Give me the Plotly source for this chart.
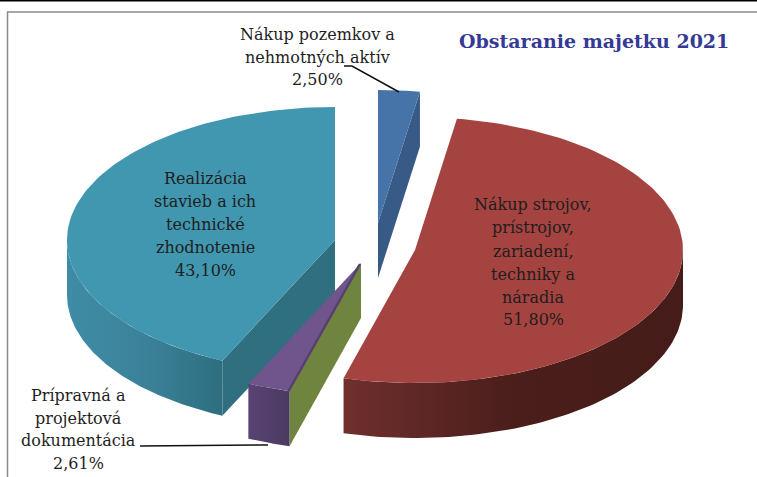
import numpy as np
import plotly.graph_objects as go

# --- data ---
categories = ["Nákup pozemkov a nehmotných aktív", "Nákup strojov, prístrojov, zariadení, techniky a náradia",
              "Prípravná a projektová dokumentácia", "Realizácia stavieb a ich technické zhodnotenie"]
values = [2.50, 51.80, 2.61, 43.10]
value_labels = ["2,50%", "51,80%", "2,61%", "43,10%"]
title_text = "Obstaranie majetku 2021"

# --- pie projection and style ---
RX, RY, DEPTH = 268, 133, 55
centers = [(378, 223), (415, 250), (361, 263), (335, 240)]   # exploded apex of each slice
top_colors = ["#4674A8", "#A54340", "#70548C", "#4197AF"]
side_grad = [None, ["#6F2F2D", "#4A1E1B", "#451C19"], ["#5A4375", "#4A3A60"], ["#3F8CA6", "#3B8299", "#2E6E80"]]
cut_colors = ["#375A86", None, "#6F843F", "#2F6F80"]

edges = np.cumsum([0] + values) / sum(values) * 2 * np.pi
W, H = 757, 477


def proj(c, t, dz=0):
    return c[0] + RX * np.sin(t), c[1] - RY * np.cos(t) + dz


def grad(cols):
    n = len(cols) - 1
    return dict(type="horizontal", colorscale=[[i / n, col] for i, col in enumerate(cols)])


def poly(x, y, color=None, gradient=None):
    kw = dict(fillgradient=gradient) if gradient else dict(fillcolor=color)
    return go.Scatter(x=list(x) + [x[0]], y=list(y) + [y[0]], mode="lines", fill="toself",
                      line=dict(width=0), hoverinfo="skip", showlegend=False, **kw)


def cut_face(i, e):
    c = centers[i]
    ox, oy = proj(c, e)
    return poly([c[0], ox, ox, c[0]], [c[1], oy, oy + DEPTH, c[1] + DEPTH], color=cut_colors[i])


def wall(i):
    c, a, b = centers[i], edges[i], edges[i + 1]
    lo, hi = max(a, np.pi / 2), min(b, 3 * np.pi / 2)
    t = np.linspace(lo, hi, 80)
    x1, y1 = proj(c, t)
    x2, y2 = proj(c, t[::-1], DEPTH)
    return poly(np.r_[x1, x2], np.r_[y1, y2], gradient=grad(side_grad[i]))


def top(i):
    c = centers[i]
    x, y = proj(c, np.linspace(edges[i], edges[i + 1], 120))
    return poly(np.r_[c[0], x], np.r_[c[1], y], color=top_colors[i])


fig = go.Figure()
# painter's order: teal, blue, purple/green, red
fig.add_traces([cut_face(3, edges[3]), wall(3), top(3)])
fig.add_traces([cut_face(0, edges[1]), top(0)])
fig.add_traces([cut_face(2, edges[2]), wall(2), top(2)])
fig.add_traces([wall(1), top(1)])

# purple wedge: thin darker bevel along its right edge
c = centers[2]
ox, oy = proj(c, edges[2])
fig.add_trace(go.Scatter(x=[c[0] - 1, ox - 1], y=[c[1] + 1, oy], mode="lines",
                         line=dict(color="#57406F", width=2.5), hoverinfo="skip", showlegend=False))

# leader lines
fig.add_trace(go.Scatter(x=[344, 352, 399], y=[66, 66, 92], mode="lines",
                         line=dict(color="#111111", width=1.5), hoverinfo="skip", showlegend=False))
fig.add_trace(go.Scatter(x=[140, 268], y=[446, 445], mode="lines",
                         line=dict(color="#111111", width=1.5), hoverinfo="skip", showlegend=False))

label_lines = [
    (317, [34, 57, 79], ["Nákup pozemkov a", "nehmotných aktív", value_labels[0]]),
    (533, [204, 227, 251, 274, 297, 319], ["Nákup strojov,", "prístrojov,", "zariadení,", "techniky a", "náradia", value_labels[1]]),
    (78, [395, 418, 440, 463], ["Prípravná a", "projektová", "dokumentácia", value_labels[2]]),
    (205, [178, 201, 224, 247, 270], ["Realizácia", "stavieb a ich", "technické", "zhodnotenie", value_labels[3]]),
]
FONT = "DejaVu Serif"
for x, ys, lines in label_lines:
    for y, s in zip(ys, lines):
        fig.add_annotation(x=x, y=y, text=s, showarrow=False, xanchor="center", yanchor="middle",
                           font=dict(family=FONT, size=16, color="#1E1E1E"))
fig.add_annotation(x=594, y=41, text="<b>" + title_text + "</b>", showarrow=False, xanchor="center", yanchor="middle",
                   font=dict(family=FONT, size=19, color="#343A96"))

frame = [
    dict(x0=0, x1=W, y0=0.5, y1=0.5, color="#000000", width=2),
    dict(x0=7, x1=W, y0=12, y1=12, color="#8A8A8A", width=1.5),
    dict(x0=7.5, x1=7.5, y0=12, y1=H, color="#8A8A8A", width=1.5),
]
for f in frame:
    fig.add_shape(type="line", x0=f["x0"], x1=f["x1"], y0=f["y0"], y1=f["y1"],
                  line=dict(color=f["color"], width=f["width"]), layer="below")

fig.update_layout(
    width=W, height=H, margin=dict(l=0, r=0, t=0, b=0), paper_bgcolor="white", plot_bgcolor="white",
    showlegend=False,
    xaxis=dict(range=[0, W], visible=False, fixedrange=True),
    yaxis=dict(range=[H, 0], visible=False, fixedrange=True),
)
fig.write_html("out.html", config=dict(displayModeBar=False),
               post_script="document.body.style.margin='0';document.body.style.overflow='hidden';")
